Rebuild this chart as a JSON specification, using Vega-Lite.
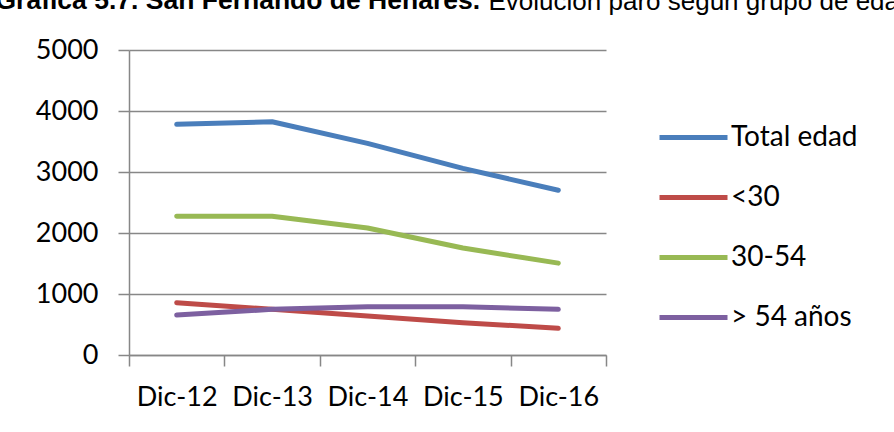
{
  "$schema": "https://vega.github.io/schema/vega-lite/v6.json",
  "width": 477,
  "height": 305,
  "autosize": "none",
  "padding": {"left": 129, "top": 50, "right": 288, "bottom": 77},
  "data": {
    "values": [
      {"mes": "Dic-12", "grupo": "Total edad", "valor": 3781},
      {"mes": "Dic-13", "grupo": "Total edad", "valor": 3824},
      {"mes": "Dic-14", "grupo": "Total edad", "valor": 3470},
      {"mes": "Dic-15", "grupo": "Total edad", "valor": 3060},
      {"mes": "Dic-16", "grupo": "Total edad", "valor": 2700},
      {"mes": "Dic-12", "grupo": "<30", "valor": 857},
      {"mes": "Dic-13", "grupo": "<30", "valor": 750},
      {"mes": "Dic-14", "grupo": "<30", "valor": 640},
      {"mes": "Dic-15", "grupo": "<30", "valor": 530},
      {"mes": "Dic-16", "grupo": "<30", "valor": 437},
      {"mes": "Dic-12", "grupo": "30-54", "valor": 2273},
      {"mes": "Dic-13", "grupo": "30-54", "valor": 2275},
      {"mes": "Dic-14", "grupo": "30-54", "valor": 2082},
      {"mes": "Dic-15", "grupo": "30-54", "valor": 1753},
      {"mes": "Dic-16", "grupo": "30-54", "valor": 1506},
      {"mes": "Dic-12", "grupo": "> 54 años", "valor": 656},
      {"mes": "Dic-13", "grupo": "> 54 años", "valor": 749},
      {"mes": "Dic-14", "grupo": "> 54 años", "valor": 792},
      {"mes": "Dic-15", "grupo": "> 54 años", "valor": 793},
      {"mes": "Dic-16", "grupo": "> 54 años", "valor": 749}
    ]
  },
  "mark": {"type": "line", "strokeWidth": 5, "strokeCap": "round", "strokeJoin": "round"},
  "encoding": {
    "x": {
      "field": "mes",
      "type": "ordinal",
      "sort": ["Dic-12", "Dic-13", "Dic-14", "Dic-15", "Dic-16"],
      "scale": {"type": "band", "paddingInner": 0, "paddingOuter": 0},
      "axis": {
        "title": "Gráfica 5.7. San Fernando de Henares.",
        "titleX": -134,
        "titleY": -347,
        "titleAngle": 0,
        "titleAlign": "left",
        "titleBaseline": "alphabetic",
        "titleFont": "Liberation Sans",
        "titleFontWeight": "bold",
        "titleFontSize": 26.5,
        "titleColor": "#000000",
        "labelAngle": 0,
        "tickBand": "extent",
        "grid": false,
        "domainColor": "#878787",
        "domainWidth": 1.5,
        "tickColor": "#878787",
        "tickWidth": 1.5,
        "tickSize": 11,
        "labelFont": "Lato",
        "labelFontSize": 27,
        "labelColor": "#000000",
        "labelPadding": 18
      }
    },
    "y": {
      "field": "valor",
      "type": "quantitative",
      "scale": {"domain": [0, 5000]},
      "axis": {
        "values": [0, 1000, 2000, 3000, 4000, 5000],
        "format": "d",
        "title": "Evolución paro según grupo de edad",
        "titleAngle": 0,
        "titleX": 359,
        "titleY": -41,
        "titleAlign": "left",
        "titleBaseline": "alphabetic",
        "titleFont": "Liberation Sans",
        "titleFontWeight": "normal",
        "titleFontSize": 26,
        "titleColor": "#000000",
        "grid": true,
        "gridColor": "#878787",
        "gridWidth": 1.5,
        "domainColor": "#878787",
        "domainWidth": 1.5,
        "tickColor": "#878787",
        "tickWidth": 1.5,
        "tickSize": 11,
        "labelFont": "Lato",
        "labelFontSize": 27,
        "labelColor": "#000000",
        "labelPadding": 20
      }
    },
    "color": {
      "field": "grupo",
      "type": "nominal",
      "scale": {
        "domain": ["Total edad", "<30", "30-54", "> 54 años"],
        "range": ["#4A7EBB", "#BE4B48", "#98B954", "#7D60A0"]
      },
      "legend": {
        "title": null,
        "orient": "none",
        "legendX": 528,
        "legendY": 51,
        "padding": 0,
        "symbolType": "stroke",
        "symbolSize": 4624,
        "symbolStrokeWidth": 5,
        "labelFont": "Lato",
        "labelFontSize": 28,
        "labelColor": "#000000",
        "labelOffset": 1,
        "rowPadding": 9
      }
    }
  },
  "config": {"view": {"stroke": null}, "background": "#ffffff"}
}
